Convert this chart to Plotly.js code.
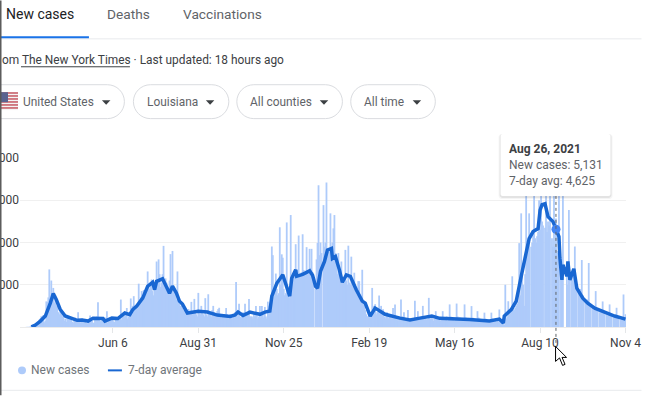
<!DOCTYPE html>
<html><head><meta charset="utf-8">
<script src="https://cdn.plot.ly/plotly-2.35.2.min.js"></script>
<style>html,body{margin:0;padding:0;background:#fff;overflow:hidden}</style>
</head><body><div id="chart" style="width:649px;height:396px"></div>
<script>
const startDate = '2020-03-09';
const newCases = [
0,1,5,7,5,11,19,
60,100,110,130,170,100,200,
250,350,400,510,440,570,225,
300,1212,1187,1400,2726,1200,2200,
1300,1850,1150,1500,1000,1150,700,
600,900,700,500,600,300,400,
250,500,450,350,400,350,250,
200,400,450,400,350,700,250,
200,350,400,350,300,300,200,
150,300,350,550,350,300,200,
200,350,400,500,1175,400,300,
250,350,300,400,450,350,750,
200,350,450,400,400,300,250,
250,400,450,450,400,350,1300,
350,600,650,500,550,900,400,
500,600,1350,700,1000,1460,900,
800,900,1000,2050,1200,1400,1700,
1300,1750,1500,1700,1600,2630,1900,
1800,2000,2250,1700,1500,1800,2000,
3100,2100,3200,2500,1900,2100,2500,
3840,2000,2300,2100,1700,1900,2200,
3450,1800,3600,1900,1700,1600,1300,
2630,1200,1100,1000,1000,900,800,
850,900,700,800,850,700,650,
1190,700,700,1330,750,600,500,
1615,650,600,1000,650,600,500,
1365,600,500,1550,700,600,500,
800,1000,700,600,500,750,850,
910,500,450,600,500,600,500,
900,600,400,550,600,500,400,
500,600,700,2130,500,600,1100,
500,450,600,700,600,1100,500,
600,700,1330,500,500,500,400,
700,500,1000,550,400,500,1000,
450,1000,600,450,950,500,400,
1200,1000,800,1500,3810,3400,1500,
1700,2530,1800,1500,1600,4720,2000,
3440,3280,1800,1500,1600,4950,1700,
1500,1400,5300,2100,2300,2500,2400,
3920,2600,2700,4330,2500,2400,2600,
4390,2700,2500,2500,3780,2600,2500,
3700,2800,3700,2600,2300,0,1800,
3200,3980,6710,3400,4000,3500,0,
5770,3800,4000,6840,3500,3600,3700,
5380,3800,4000,4670,5300,3500,3000,
2500,3500,2600,2500,3100,2300,2200,
2100,3650,2200,2000,3850,2100,2000,
3330,2100,2000,2570,1900,1800,1700,
2170,2170,1500,1300,2710,1200,1100,
800,600,500,500,600,700,500,
1850,1000,800,1080,600,700,700,
1490,700,1000,600,840,500,400,
500,700,400,600,500,400,500,
900,500,1070,500,400,300,400,
400,1300,500,400,700,400,300,
300,800,400,300,350,300,300,
300,1240,450,400,750,400,350,
400,500,1000,450,400,400,350,
400,1380,500,400,450,400,300,
400,750,500,400,450,350,300,
400,750,450,400,350,500,300,
400,1070,500,400,450,350,300,
400,1110,500,400,450,300,300,
400,350,1070,450,400,350,300,
350,400,990,450,400,350,300,
350,750,450,400,350,300,250,
300,680,400,350,300,300,250,
300,680,400,300,300,300,250,
350,300,830,400,350,300,200,
100,2000,400,500,1220,800,700,
800,2400,1000,800,900,1000,1100,
1200,3970,1500,5380,2500,2000,1000,
2500,7500,3500,3800,5380,0,3800,
4000,4500,8500,4200,4000,4300,4500,
6000,4600,9000,5000,4800,0,4700,
8000,4500,5000,4800,7200,0,4200,
3800,6500,3800,5131,3600,3500,7000,
0,3300,3000,6500,0,0,0,
3000,2000,5540,2600,0,2400,2200,
2500,3810,2200,2000,0,1800,1700,
1800,3170,1500,1400,0,1300,1200,
1300,3030,1100,1000,0,900,800,
900,1700,900,800,0,700,700,
700,1210,700,650,0,600,550,
600,1070,600,500,0,450,450,
500,910,500,400,0,350,350,
400,1540,400,600
];
const avgDay = [7,11,16,21,26,29,32,36,41,48,53,58,64,69,79,81,88,94,101,106,109,113,119,124,129,131,133,139,143,146,149,153,156,159,164,175,184,194,207,212,215,220,227,237,242,247,249,254,260,264,267,269,273,274,280,287,290,293,295,298,302,305,309,310,313,317,320,324,328,334,340,343,348,353,363,378,388,398,410,418,448,468,478,482,483,490,495,500,505,508,512,517,519,521,524,527,532,535,538,539,541,542,546,547,549,553,556,562,567,574,584,594,605];
const avgValue = [10,90,280,520,1130,1590,1300,830,520,410,315,330,280,410,400,280,420,400,660,588,824,988,1365,1930,2118,1765,2165,2282,1930,1600,1930,1600,1224,1082,660,750,706,565,500,565,705,550,705,600,706,753,1460,2070,2470,1930,1460,2306,2706,2400,2494,2659,2447,1930,1835,2635,3106,3647,3718,3247,3341,2706,2118,2470,2400,1765,1224,1130,518,894,600,420,330,420,520,410,360,280,375,190,518,824,1224,2400,3576,4188,4518,4659,5530,5788,5835,5224,4988,4625,4282,3247,2235,2941,2400,3106,2235,2753,1835,1365,1130,894,706,520,370];
const xTickDates = ['2020-06-06','2020-08-31','2020-11-25','2021-02-19','2021-05-16','2021-08-10','2021-11-04'];
const xTickLabels = ['Jun 6','Aug 31','Nov 25','Feb 19','May 16','Aug 10','Nov 4'];
const yTickValues = [0,2000,4000,6000,8000];
const yTickLabels = ['','000','000','000','000'];
const hoverDate = '2021-08-26';
const hoverCases = 5131;
const hoverAvg = 4625;

const W=649,H=396,L=20,R=22.5,T=158,B=68.5;
const px=x=>(x-L)/(W-L-R), py=y=>1-(y-T)/(H-T-B);
const dayMs=86400000, t0=Date.parse(startDate+'T00:00:00Z');
const dateAt=i=>new Date(t0+i*dayMs).toISOString().slice(0,10);
const dates=newCases.map((_,i)=>dateAt(i));
const avgDates=avgDay.map(dateAt);

const BLUE='#1967d2', LIGHT='#aecbfa', TXT='#3c4043', GREY='#5f6368', MUTED='#70757a';
const shapes=[], annotations=[];
function rect(x0,y0,x1,y1,fill,layer){shapes.push({type:'rect',xref:'paper',yref:'paper',x0:px(x0),x1:px(x1),y0:py(y0),y1:py(y1),fillcolor:fill,line:{width:0},layer:layer||'above'});}
function hline(x0,x1,y,color,w){shapes.push({type:'line',xref:'paper',yref:'paper',x0:px(x0),x1:px(x1),y0:py(y),y1:py(y),line:{color:color,width:w||1},layer:'above'});}
function poly(pts,fill,line){shapes.push({type:'path',xref:'paper',yref:'paper',path:'M'+pts.map(p=>px(p[0])+','+py(p[1])).join(' L')+' Z',fillcolor:fill,line:line||{width:0},layer:'above'});}
function rrect(x0,y0,x1,y1,r,fill,stroke){
  const P=(x,y)=>px(x)+','+py(y);
  const k=r*0.45;
  const d='M'+P(x0+r,y0)+' L'+P(x1-r,y0)+' C'+P(x1-k,y0)+' '+P(x1,y0+k)+' '+P(x1,y0+r)+' L'+P(x1,y1-r)+' C'+P(x1,y1-k)+' '+P(x1-k,y1)+' '+P(x1-r,y1)+' L'+P(x0+r,y1)+' C'+P(x0+k,y1)+' '+P(x0,y1-k)+' '+P(x0,y1-r)+' L'+P(x0,y0+r)+' C'+P(x0,y0+k)+' '+P(x0+k,y0)+' '+P(x0+r,y0)+' Z';
  shapes.push({type:'path',xref:'paper',yref:'paper',path:d,fillcolor:fill,line:stroke?{color:stroke,width:1}:{width:0},layer:'above'});
}
function label(x,y,text,color,size,anchor){annotations.push({xref:'paper',yref:'paper',x:px(x),y:py(y),text:text,showarrow:false,xanchor:anchor||'left',yanchor:'middle',borderpad:0,borderwidth:0,font:{family:'Roboto, Arial, sans-serif',size:size||12,color:color}});}

// tabs
label(6,14,'New cases','#202124',14);
label(107,14,'Deaths',GREY,13.7);
label(183,14,'Vaccinations',GREY,13.7);
hline(0,642,38.5,'#e8eaed',1);
rect(0,36,89,38,'#1a73e8');
// source line
label(2,60,'om The New York Times · Last updated: 18 hours ago',TXT,11.9);
hline(21,130,66.5,'#3c4043',1);
// filter pills
const pills=[[-40,124.5,'United States',23,102],[133.5,229,'Louisiana',147,206],[237,342.7,'All counties',250,320],[351,435.7,'All time',364,413]];
pills.forEach(p=>{
  rrect(p[0],84.5,p[1],118.5,17,'#ffffff','#dadce0');
  label(p[3],101.5,p[2],GREY,11.9);
  poly([[p[4],100],[p[4]+8.5,100],[p[4]+4.25,104.5]],TXT);
});
// flag
rect(-2,92,18,110,'#f4f4f4');
const stripeTop=[92,95,98,101,104,107];
stripeTop.forEach(y=>rect(-2,y,18,y+1.6,'#c8606a'));
rect(-2,92,8,102,'#5a6390');
// legend
shapes.push({type:'circle',xref:'paper',yref:'paper',x0:px(18),x1:px(26),y0:py(367),y1:py(375),fillcolor:LIGHT,line:{width:0},layer:'above'});
label(31,371,'New cases',MUTED,12);
rect(108,370,122,372,BLUE);
label(128,371,'7-day average',MUTED,12);
hline(0,642,391,'#e8eaed',1);
// hover guide
shapes.push({type:'line',xref:'x',yref:'paper',x0:hoverDate,x1:hoverDate,y0:py(196),y1:py(347),line:{color:GREY,width:1,dash:'dot'},layer:'above'});
// tooltip
rrect(499,134,613,199,3,'rgba(0,0,0,0.04)');
rrect(500,134,612,198,3,'rgba(0,0,0,0.07)');
rrect(501,134,611,196,2,'#ffffff');
label(509,149,'<b>Aug 26, 2021</b>',TXT,12);
label(509,165.5,'New cases: '+hoverCases.toLocaleString('en-US'),GREY,12);
label(509,181.5,'7-day avg: '+hoverAvg.toLocaleString('en-US'),GREY,12);
// cursor
poly([[556,347],[556,362],[560,358.5],[563,366],[565.5,365],[562.5,358],[567,358]],'#ffffff',{color:'#000000',width:1});
// window edge
rect(0,0,1.5,396,'#5a5a5a');

const traces=[
 {type:'bar',name:'New cases',x:dates,y:newCases,width:dayMs*1.8,marker:{color:LIGHT,line:{width:0}},hoverinfo:'skip',showlegend:false},
 {type:'scatter',mode:'lines',name:'7-day average',x:avgDates,y:avgValue,line:{color:BLUE,width:3.5,shape:'linear'},hoverinfo:'skip',showlegend:false},
 {type:'scatter',mode:'markers',name:'Selected day',x:[hoverDate],y:[hoverAvg],marker:{color:'#4285f4',size:9},hoverinfo:'skip',showlegend:false}
];
const layout={
 width:W,height:H,showlegend:false,paper_bgcolor:'#fff',plot_bgcolor:'#fff',
 margin:{l:L,r:R,t:T,b:B,pad:0},
 font:{family:'Roboto, Arial, sans-serif',size:12,color:TXT},
 xaxis:{type:'date',range:['2020-03-04 12:00','2021-11-04 12:00'],tickmode:'array',tickvals:xTickDates,ticktext:xTickLabels,ticks:'outside',ticklen:5,tickcolor:'#e4e6e8',tickwidth:1,showgrid:false,zeroline:false,showline:false,tickfont:{size:12,color:TXT}},
 yaxis:{range:[0,8000],tickmode:'array',tickvals:yTickValues,ticktext:yTickLabels,ticks:'',gridcolor:'#f0f0f0',gridwidth:1,zeroline:true,zerolinecolor:'#ebebeb',zerolinewidth:1,showline:false,tickfont:{size:12,color:TXT}},
 shapes:shapes,annotations:annotations
};
Plotly.newPlot('chart',traces,layout,{displayModeBar:false,staticPlot:true});
</script></body></html>
